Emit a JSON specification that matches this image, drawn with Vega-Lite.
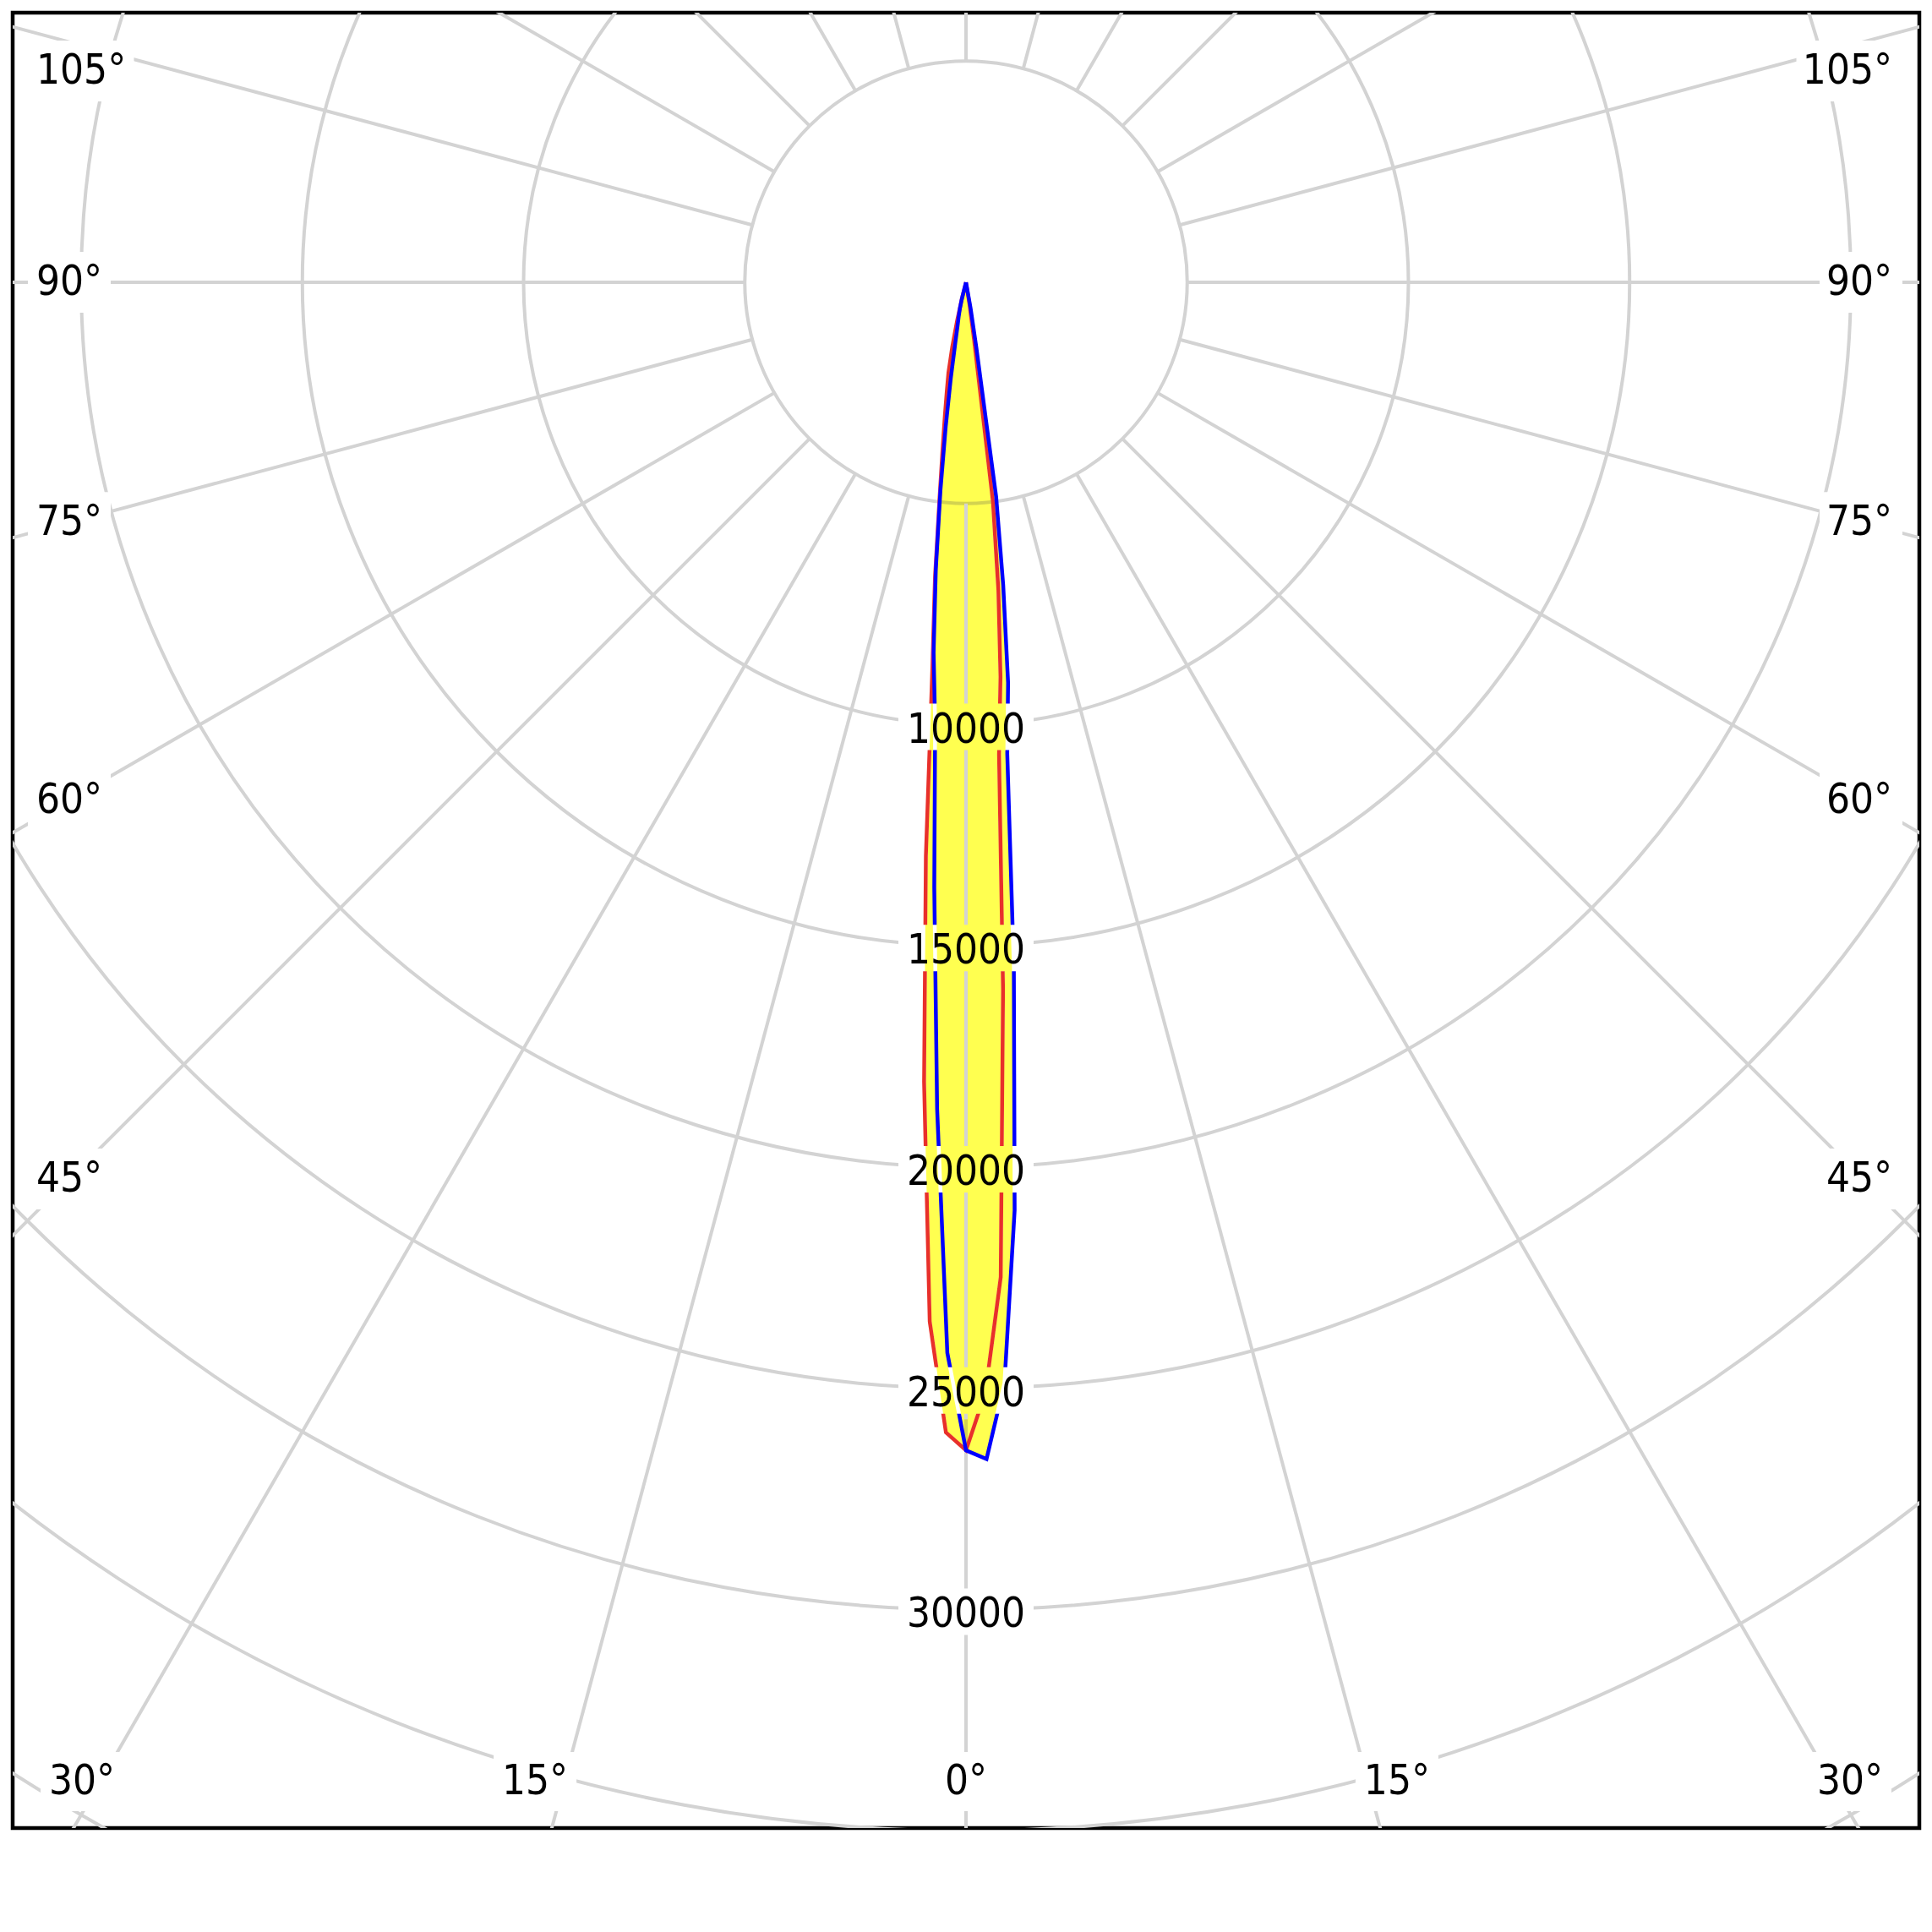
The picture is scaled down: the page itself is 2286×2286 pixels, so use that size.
{
  "$schema": "https://vega.github.io/schema/vega-lite/v6.json",
  "width": 2256,
  "height": 2148,
  "autosize": {"type": "none"},
  "padding": {"left": 15, "top": 15, "right": 15, "bottom": 123},
  "background": "white",
  "view": {"stroke": "black", "strokeWidth": 4.5},
  "config": {"view": {"stroke": "black", "strokeWidth": 4.5}},
  "datasets": {
    "curves": [
      {"plane": "C0-C180", "a": -15, "v": 0}, {"plane": "C0-C180", "a": -14, "v": 400}, {"plane": "C0-C180", "a": -13, "v": 900},
      {"plane": "C0-C180", "a": -12, "v": 1500}, {"plane": "C0-C180", "a": -11, "v": 2080}, {"plane": "C0-C180", "a": -10, "v": 2500},
      {"plane": "C0-C180", "a": -9, "v": 3050}, {"plane": "C0-C180", "a": -8, "v": 3800}, {"plane": "C0-C180", "a": -7, "v": 4900},
      {"plane": "C0-C180", "a": -6, "v": 6700}, {"plane": "C0-C180", "a": -5, "v": 8700}, {"plane": "C0-C180", "a": -4, "v": 13000},
      {"plane": "C0-C180", "a": -3, "v": 18100}, {"plane": "C0-C180", "a": -2, "v": 23500}, {"plane": "C0-C180", "a": -1, "v": 26000},
      {"plane": "C0-C180", "a": 0, "v": 26400}, {"plane": "C0-C180", "a": 1, "v": 25100}, {"plane": "C0-C180", "a": 2, "v": 22500},
      {"plane": "C0-C180", "a": 3, "v": 16000}, {"plane": "C0-C180", "a": 4, "v": 10700}, {"plane": "C0-C180", "a": 5, "v": 8950},
      {"plane": "C0-C180", "a": 6, "v": 7000}, {"plane": "C0-C180", "a": 7, "v": 5000}, {"plane": "C0-C180", "a": 8, "v": 1300},
      {"plane": "C0-C180", "a": 9, "v": 500}, {"plane": "C0-C180", "a": 10, "v": 0},
      {"plane": "C90-C270", "a": -15, "v": 0}, {"plane": "C90-C270", "a": -14, "v": 400}, {"plane": "C90-C270", "a": -13, "v": 620},
      {"plane": "C90-C270", "a": -12, "v": 800}, {"plane": "C90-C270", "a": -11, "v": 1000}, {"plane": "C90-C270", "a": -10, "v": 1400},
      {"plane": "C90-C270", "a": -9, "v": 2200}, {"plane": "C90-C270", "a": -8, "v": 3300}, {"plane": "C90-C270", "a": -7, "v": 4750},
      {"plane": "C90-C270", "a": -6, "v": 6530}, {"plane": "C90-C270", "a": -5, "v": 8400}, {"plane": "C90-C270", "a": -4, "v": 10000},
      {"plane": "C90-C270", "a": -3, "v": 13700}, {"plane": "C90-C270", "a": -2, "v": 18700}, {"plane": "C90-C270", "a": -1, "v": 24200},
      {"plane": "C90-C270", "a": 0, "v": 26400}, {"plane": "C90-C270", "a": 1, "v": 26600}, {"plane": "C90-C270", "a": 2, "v": 24900},
      {"plane": "C90-C270", "a": 3, "v": 21000}, {"plane": "C90-C270", "a": 4, "v": 15500}, {"plane": "C90-C270", "a": 5, "v": 10700},
      {"plane": "C90-C270", "a": 6, "v": 9100}, {"plane": "C90-C270", "a": 7, "v": 6900}, {"plane": "C90-C270", "a": 8, "v": 4900},
      {"plane": "C90-C270", "a": 9, "v": 1500}, {"plane": "C90-C270", "a": 10, "v": 600}, {"plane": "C90-C270", "a": 11, "v": 0}
    ],
    "rings": [{"v": 5000}, {"v": 10000}, {"v": 15000}, {"v": 20000}, {"v": 25000}, {"v": 30000}, {"v": 35000}, {"v": 40000}],
    "radials": [{"a": 0}, {"a": 15}, {"a": 30}, {"a": 45}, {"a": 60}, {"a": 75}, {"a": 90}, {"a": 105}, {"a": 120}, {"a": 135}, {"a": 150}, {"a": 165},
      {"a": 180}, {"a": 195}, {"a": 210}, {"a": 225}, {"a": 240}, {"a": 255}, {"a": 270}, {"a": 285}, {"a": 300}, {"a": 315}, {"a": 330}, {"a": 345}],
    "side": [{"a": 105, "t": "105°"}, {"a": 90, "t": "90°"}, {"a": 75, "t": "75°"}, {"a": 60, "t": "60°"}, {"a": 45, "t": "45°"}],
    "bottom": [{"a": -30, "t": "30°"}, {"a": -15, "t": "15°"}, {"a": 0, "t": "0°"}, {"a": 15, "t": "15°"}, {"a": 30, "t": "30°"}]
  },
  "layer": [
    {
      "data": {"name": "rings"},
      "mark": {"type": "arc", "filled": false, "stroke": "#d3d3d3", "strokeWidth": 4, "theta": 0, "theta2": 6.2832, "clip": true},
      "encoding": {
        "x": {"datum": 0, "type": "quantitative", "scale": {"domain": [-21547, 21547], "nice": false, "zero": false}, "axis": null},
        "y": {"datum": 0, "type": "quantitative", "scale": {"domain": [-34938, 6094], "nice": false, "zero": false}, "axis": null},
        "radius": {"field": "v", "type": "quantitative", "stack": null, "scale": {"type": "linear", "domain": [0, 50000], "range": [0, 2617.5], "zero": true}, "legend": null}
      }
    },
    {
      "data": {"name": "radials"},
      "transform": [
        {"calculate": "5000*sin(datum.a*PI/180)", "as": "x"},
        {"calculate": "-5000*cos(datum.a*PI/180)", "as": "y"},
        {"calculate": "60000*sin(datum.a*PI/180)", "as": "x2"},
        {"calculate": "-60000*cos(datum.a*PI/180)", "as": "y2"}
      ],
      "mark": {"type": "rule", "stroke": "#d3d3d3", "strokeWidth": 4, "clip": true},
      "encoding": {
        "x": {"field": "x", "type": "quantitative", "axis": null},
        "y": {"field": "y", "type": "quantitative", "axis": null},
        "x2": {"field": "x2"},
        "y2": {"field": "y2"}
      }
    },
    {
      "data": {"name": "curves"},
      "transform": [
        {"filter": "datum.plane == 'C0-C180'"},
        {"calculate": "datum.v*sin(datum.a*PI/180)", "as": "x"},
        {"calculate": "-datum.v*cos(datum.a*PI/180)", "as": "y"}
      ],
      "mark": {"type": "line", "stroke": "#e8302a", "strokeWidth": 4.5, "strokeJoin": "miter"},
      "encoding": {
        "x": {"field": "x", "type": "quantitative", "axis": null},
        "y": {"field": "y", "type": "quantitative", "axis": null},
        "order": {"field": "a", "type": "quantitative"}
      }
    },
    {
      "data": {"name": "curves"},
      "transform": [
        {"filter": "datum.plane == 'C90-C270'"},
        {"calculate": "datum.v*sin(datum.a*PI/180)", "as": "x"},
        {"calculate": "-datum.v*cos(datum.a*PI/180)", "as": "y"}
      ],
      "mark": {"type": "line", "stroke": "#0000ff", "strokeWidth": 4.5, "strokeJoin": "miter"},
      "encoding": {
        "x": {"field": "x", "type": "quantitative", "axis": null},
        "y": {"field": "y", "type": "quantitative", "axis": null},
        "order": {"field": "a", "type": "quantitative"}
      }
    },
    {
      "data": {"name": "side"},
      "transform": [
        {"calculate": "min(4776, -20268/tan(datum.a*PI/180))", "as": "y"},
        {"calculate": "-21012", "as": "x"},
        {"calculate": "-21012 + (27.5*length(datum.t)+15.5)/0.05235", "as": "x2"}
      ],
      "mark": {"type": "rect", "fill": "white", "xOffset": -10, "x2Offset": -10, "yOffset": -36, "y2Offset": 36},
      "encoding": {
        "x": {"field": "x", "type": "quantitative", "axis": null},
        "x2": {"field": "x2"},
        "y": {"field": "y", "type": "quantitative", "axis": null},
        "y2": {"field": "y"}
      }
    },
    {
      "data": {"name": "side"},
      "transform": [
        {"calculate": "min(4776, -20268/tan(datum.a*PI/180))", "as": "y"},
        {"calculate": "20936 - (27.5*length(datum.t)+15.5)/0.05235", "as": "x"},
        {"calculate": "20936", "as": "x2"}
      ],
      "mark": {"type": "rect", "fill": "white", "xOffset": 12, "x2Offset": 12, "yOffset": -36, "y2Offset": 36},
      "encoding": {
        "x": {"field": "x", "type": "quantitative", "axis": null},
        "x2": {"field": "x2"},
        "y": {"field": "y", "type": "quantitative", "axis": null},
        "y2": {"field": "y"}
      }
    },
    {
      "data": {"name": "bottom"},
      "transform": [
        {"calculate": "clamp(36351*tan(datum.a*PI/180), -19981, 19981)", "as": "xc"},
        {"calculate": "datum.xc - (27.5*length(datum.t)+15.5)/2/0.05235", "as": "x"},
        {"calculate": "datum.xc + (27.5*length(datum.t)+15.5)/2/0.05235", "as": "x2"},
        {"calculate": "-33887", "as": "y"}
      ],
      "mark": {"type": "rect", "fill": "white", "yOffset": -35, "y2Offset": 35},
      "encoding": {
        "x": {"field": "x", "type": "quantitative", "axis": null},
        "x2": {"field": "x2"},
        "y": {"field": "y", "type": "quantitative", "axis": null},
        "y2": {"field": "y"}
      }
    },
    {
      "data": {"name": "rings"},
      "transform": [
        {"filter": "datum.v >= 10000 && datum.v <= 30000"},
        {"calculate": "-datum.v", "as": "y"},
        {"calculate": "0", "as": "x"}
      ],
      "mark": {"type": "rect", "fill": "white", "xOffset": -80, "x2Offset": 80, "yOffset": -25, "y2Offset": 30},
      "encoding": {
        "x": {"field": "x", "type": "quantitative", "axis": null},
        "x2": {"field": "x"},
        "y": {"field": "y", "type": "quantitative", "axis": null},
        "y2": {"field": "y"}
      }
    },
    {
      "data": {"name": "curves"},
      "transform": [
        {"filter": "datum.plane == 'C0-C180'"},
        {"calculate": "datum.v*sin(datum.a*PI/180)", "as": "x"},
        {"calculate": "-datum.v*cos(datum.a*PI/180)", "as": "y"}
      ],
      "mark": {"type": "line", "fill": "#ffff50", "strokeWidth": 0, "strokeOpacity": 0, "blend": "darken"},
      "encoding": {
        "x": {"field": "x", "type": "quantitative", "axis": null},
        "y": {"field": "y", "type": "quantitative", "axis": null},
        "order": {"field": "a", "type": "quantitative"}
      }
    },
    {
      "data": {"name": "curves"},
      "transform": [
        {"filter": "datum.plane == 'C90-C270'"},
        {"calculate": "datum.v*sin(datum.a*PI/180)", "as": "x"},
        {"calculate": "-datum.v*cos(datum.a*PI/180)", "as": "y"}
      ],
      "mark": {"type": "line", "fill": "#ffff50", "strokeWidth": 0, "strokeOpacity": 0, "blend": "darken"},
      "encoding": {
        "x": {"field": "x", "type": "quantitative", "axis": null},
        "y": {"field": "y", "type": "quantitative", "axis": null},
        "order": {"field": "a", "type": "quantitative"}
      }
    },
    {
      "data": {"name": "rings"},
      "transform": [
        {"filter": "datum.v <= 25000"},
        {"calculate": "datum.v == 5000 ? -5000 : -(datum.v + 573)", "as": "y"},
        {"calculate": "-min(datum.v + 4522, 25700)", "as": "y2"},
        {"calculate": "0", "as": "x"}
      ],
      "mark": {"type": "rule", "stroke": "#d3d3d3", "strokeWidth": 4, "blend": "lighten"},
      "encoding": {
        "x": {"field": "x", "type": "quantitative", "axis": null},
        "y": {"field": "y", "type": "quantitative", "axis": null},
        "y2": {"field": "y2"}
      }
    },
    {
      "data": {"name": "curves"},
      "transform": [
        {"filter": "datum.plane == 'C90-C270'"},
        {"calculate": "datum.v*sin(datum.a*PI/180)", "as": "x"},
        {"calculate": "-datum.v*cos(datum.a*PI/180)", "as": "y"}
      ],
      "mark": {"type": "line", "stroke": "#0000ff", "strokeWidth": 4.5, "strokeJoin": "miter", "blend": "lighten"},
      "encoding": {
        "x": {"field": "x", "type": "quantitative", "axis": null},
        "y": {"field": "y", "type": "quantitative", "axis": null},
        "order": {"field": "a", "type": "quantitative"}
      }
    },
    {
      "data": {"name": "side"},
      "transform": [
        {"calculate": "min(4776, -20268/tan(datum.a*PI/180))", "as": "y"},
        {"calculate": "-21012", "as": "x"}
      ],
      "mark": {"type": "text", "font": "DejaVu Sans Condensed", "fontSize": 49, "fill": "black", "align": "left", "baseline": "middle"},
      "encoding": {
        "x": {"field": "x", "type": "quantitative", "axis": null},
        "y": {"field": "y", "type": "quantitative", "axis": null},
        "text": {"field": "t", "type": "nominal"}
      }
    },
    {
      "data": {"name": "side"},
      "transform": [
        {"calculate": "min(4776, -20268/tan(datum.a*PI/180))", "as": "y"},
        {"calculate": "20936", "as": "x"}
      ],
      "mark": {"type": "text", "font": "DejaVu Sans Condensed", "fontSize": 49, "fill": "black", "align": "right", "baseline": "middle"},
      "encoding": {
        "x": {"field": "x", "type": "quantitative", "axis": null},
        "y": {"field": "y", "type": "quantitative", "axis": null},
        "text": {"field": "t", "type": "nominal"}
      }
    },
    {
      "data": {"name": "bottom"},
      "transform": [
        {"calculate": "clamp(36351*tan(datum.a*PI/180), -19981, 19981)", "as": "x"},
        {"calculate": "-33887", "as": "y"}
      ],
      "mark": {"type": "text", "font": "DejaVu Sans Condensed", "fontSize": 49, "fill": "black", "align": "center", "baseline": "middle"},
      "encoding": {
        "x": {"field": "x", "type": "quantitative", "axis": null},
        "y": {"field": "y", "type": "quantitative", "axis": null},
        "text": {"field": "t", "type": "nominal"}
      }
    },
    {
      "data": {"name": "rings"},
      "transform": [
        {"filter": "datum.v >= 10000 && datum.v <= 30000"},
        {"calculate": "-datum.v", "as": "y"},
        {"calculate": "0", "as": "x"}
      ],
      "mark": {"type": "text", "font": "DejaVu Sans Condensed", "fontSize": 49, "fill": "black", "align": "center", "baseline": "middle", "dy": 6},
      "encoding": {
        "x": {"field": "x", "type": "quantitative", "axis": null},
        "y": {"field": "y", "type": "quantitative", "axis": null},
        "text": {"field": "v", "type": "quantitative", "format": "d"}
      }
    }
  ]
}
